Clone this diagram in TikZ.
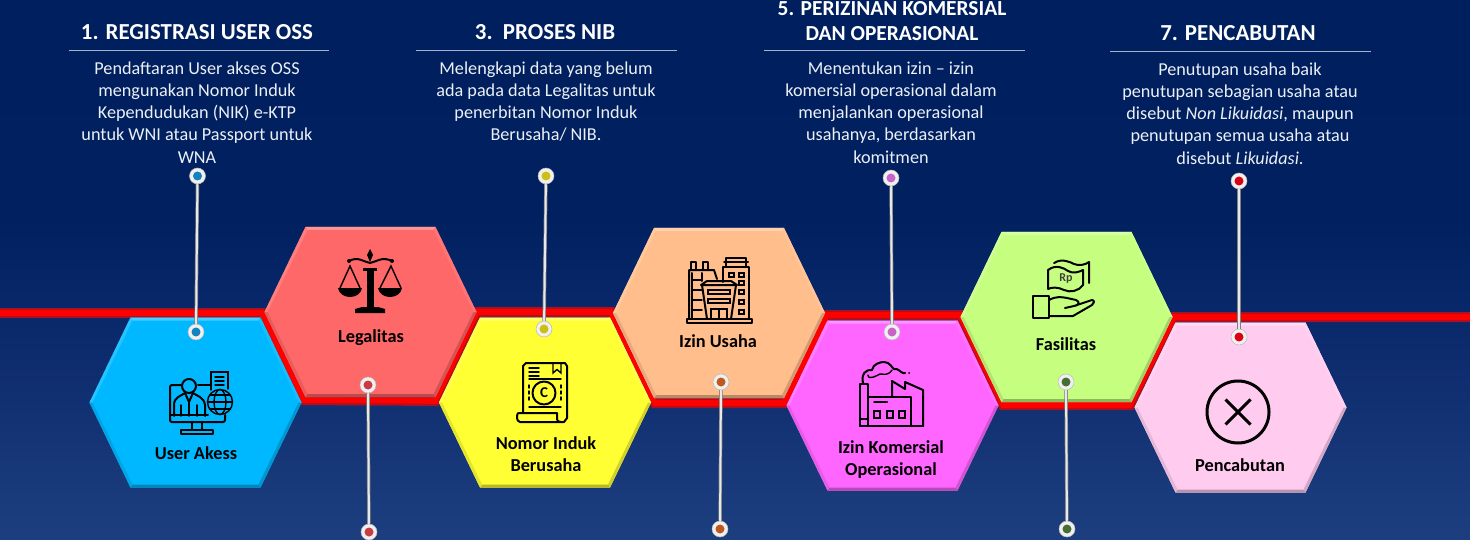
\documentclass[tikz,border=0pt]{standalone}
\usepackage{fontspec}
\setmainfont{Carlito}
\definecolor{bluehex}{RGB}{0,184,255}
\definecolor{redhex}{RGB}{255,104,104}
\definecolor{yellowhex}{RGB}{255,255,51}
\definecolor{peachhex}{RGB}{255,190,140}
\definecolor{magentahex}{RGB}{255,102,255}
\definecolor{greenhex}{RGB}{198,255,128}
\definecolor{pinkhex}{RGB}{255,204,240}
\definecolor{ballblue}{RGB}{20,130,190}
\definecolor{ballred}{RGB}{200,60,70}
\definecolor{ballyellow}{RGB}{205,190,20}
\definecolor{ballorange}{RGB}{190,90,30}
\definecolor{ballpink}{RGB}{200,100,200}
\definecolor{ballgreen}{RGB}{70,110,50}
\definecolor{balldeep}{RGB}{220,0,20}
\definecolor{bandedge}{RGB}{175,15,30}
\definecolor{rulegray}{RGB}{170,178,198}
\definecolor{textwhite}{RGB}{236,240,246}
\pgfdeclareverticalshading{bgshade}{100bp}{rgb(0bp)=(0.2,0.37,0.62);rgb(17bp)=(0.14,0.28,0.53);rgb(40bp)=(0.06,0.18,0.44);rgb(55bp)=(0,0.125,0.375);rgb(100bp)=(0,0.118,0.36)}
\newcommand{\hexa}[4]{%
	\begin{scope}[shift={(#1,#2)}]
		\fill[#3] (-106,0) -- (-65,-85) -- (65,-85) -- (106,0) -- (65,85) -- (-65,85) -- cycle;
		\fill[#3!70!white] (-65,-85) -- (65,-85) -- (63,-82) -- (-63,-82) -- cycle;
		\fill[#3!85!white] (-106,0) -- (-65,-85) -- (-63,-82) -- (-103,0) -- cycle;
		\fill[#3!92!white] (65,-85) -- (106,0) -- (103,0) -- (63,-82) -- cycle;
		\fill[#3!82!black] (106,0) -- (65,85) -- (63,82) -- (103,0) -- cycle;
		\fill[#3!72!black] (65,85) -- (-65,85) -- (-63,82) -- (63,82) -- cycle;
		\fill[#3!90!black] (-65,85) -- (-106,0) -- (-103,0) -- (-63,82) -- cycle;
	\end{scope}
	#4
}
\begin{document}
\begin{tikzpicture}[
		x=1pt,y=-1pt,
		band/.style={draw=bandedge,double=red,line width=2.2pt,double distance=5.6pt,miter limit=4},
		stick/.style={draw=gray,double=white!82!gray,line width=.7pt,double distance=2pt},
		rule/.style={draw=rulegray,line width=1pt},
		pinball/.style={circle,minimum size=16pt,inner sep=0pt,fill=white!88!gray,draw=gray!55,line width=.5pt,
			path picture={\fill[#1] (path picture bounding box.center) circle (4.5pt);}},
		headline/.style={text=white,font=\fontsize{22.9}{25}\selectfont\bfseries,align=center,inner sep=0pt},
		bodytext/.style={text=textwhite,font=\fontsize{18.2}{22.2}\selectfont,align=center,anchor=north,inner sep=0pt},
		hexlabel/.style={text=black,font=\fontsize{18.3}{22}\selectfont\bfseries,align=center,inner sep=0pt},
		icon/.style={draw=black,line width=2pt,line join=round,line cap=round},
		iconthin/.style={draw=black,line width=1.4pt,line cap=round}
		]
		\useasboundingbox (0,0) rectangle (1470,540);
		\clip (0,0) rectangle (1470,540);
		\shade[shading=bgshade] (0,0) rectangle (1470,540);
		
		% red band behind the hexagons
		\draw[band] (-10,313) -- (262,313) -- (304,400) -- (435,401) -- (477,312) -- (611,312) -- (655,403)
			-- (784,403) -- (827,315) -- (960,315) -- (1003,405) -- (1130,405) -- (1174,317) -- (1480,317);
		
		% hexagons
		\hexa{195.5}{402.5}{bluehex}{}
		\hexa{370.5}{312}{redhex}{}
		\hexa{545}{402.5}{yellowhex}{}
		\hexa{719}{313}{peachhex}{}
		\hexa{892.5}{405.5}{magentahex}{}
		\hexa{1066.5}{317}{greenhex}{}
		\hexa{1240.5}{407.5}{pinkhex}{}
		
		\node[hexlabel] (useraks) at (196,453) {User Akess};
		\node[hexlabel] (legal) at (371,338) {Legalitas};
		\node[hexlabel] (nib) at (546,454.5) {Nomor Induk\\Berusaha};
		\node[hexlabel] (izin) at (718,341) {Izin Usaha};
		\node[hexlabel] (komersial) at (891,460) {Izin Komersial\\Operasional};
		\node[hexlabel] (fasilitas) at (1066,344) {Fasilitas};
		\node[hexlabel] (cabut) at (1240,465) {Pencabutan};
		
		% titles
		\node[headline] (t1) at (197,32) {1. REGISTRASI USER OSS};
		\node[headline] (t3) at (545,32) {3.\ \ PROSES NIB};
		\node[headline,font=\fontsize{21.4}{25}\selectfont\bfseries] (t5) at (892,21) {5. PERIZINAN KOMERSIAL\\DAN OPERASIONAL};
		\node[headline] (t7) at (1238,33) {7. PENCABUTAN};
		
		\coordinate (r1a) at (69,50.5);
		\coordinate (r1b) at (329,50.5);
		\coordinate (r3a) at (416,50.5);
		\coordinate (r3b) at (677,50.5);
		\coordinate (r5a) at (764,50.5);
		\coordinate (r5b) at (1025,50.5);
		\coordinate (r7a) at (1110,52);
		\coordinate (r7b) at (1371,52);
		\draw[rule] (r1a) -- (r1b);
		\draw[rule] (r3a) -- (r3b);
		\draw[rule] (r5a) -- (r5b);
		\draw[rule] (r7a) -- (r7b);
		
		\node[bodytext] (b1) at (197,61.5) {Pendaftaran User akses OSS\\mengunakan Nomor Induk\\Kependudukan (NIK) e-KTP\\untuk WNI atau Passport untuk\\WNA};
		\node[bodytext] (b3) at (546,61.5) {Melengkapi data yang belum\\ada pada data Legalitas untuk\\penerbitan Nomor Induk\\Berusaha/ NIB.};
		\node[bodytext] (b5) at (891,61.5) {Menentukan izin -- izin\\komersial operasional dalam\\menjalankan operasional\\usahanya, berdasarkan\\komitmen};
		\node[bodytext] (b7) at (1240,62.5) {Penutupan usaha baik\\penutupan sebagian usaha atau\\disebut \textit{Non Likuidasi}, maupun\\penutupan semua usaha atau\\disebut \textit{Likuidasi}.};
		
		% pins
		\node[pinball=ballblue] (p1a) at (197.5,176) {};
		\node[pinball=ballblue] (p1b) at (196,332) {};
		\node[pinball=ballred] (p2a) at (368,385) {};
		\node[pinball=ballred] (p2b) at (369,532) {};
		\node[pinball=ballyellow] (p3a) at (546,176) {};
		\node[pinball=ballyellow] (p3b) at (544,329) {};
		\node[pinball=ballorange] (p4a) at (721,382) {};
		\node[pinball=ballorange] (p4b) at (720,529) {};
		\node[pinball=ballpink] (p5a) at (891,178) {};
		\node[pinball=ballpink] (p5b) at (892,332) {};
		\node[pinball=ballgreen] (p6a) at (1066,382) {};
		\node[pinball=ballgreen] (p6b) at (1067,529) {};
		\node[pinball=balldeep] (p7a) at (1239,181) {};
		\node[pinball=balldeep] (p7b) at (1239,337) {};
		\foreach \pina/\pinb in {p1a/p1b,p2a/p2b,p3a/p3b,p4a/p4b,p5a/p5b,p6a/p6b,p7a/p7b}
			\draw[stick] (\pina) -- (\pinb);
		
		% icon user
		\draw[icon,rounded corners=2pt] (181,385) -- (170,385) -- (170,422) -- (225,422) -- (225,415);
		\draw[icon] (198,385) -- (211,385);
		\draw[iconthin] (211,390) -- (211,372) -- (228,372) -- (228,389);
		\foreach \liney in {377,381,385}
			\draw[iconthin] (215,\liney) -- (224,\liney);
		\draw[iconthin] (220,402) circle (12.5);
		\draw[iconthin] (220,402) ellipse (6 and 12.5);
		\draw[iconthin] (207.5,402) -- (232.5,402) (209.5,395) -- (230.5,395) (209.5,409) -- (230.5,409);
		\draw[icon] (189,386) circle (7);
		\draw[icon] (174,416) -- (174,405) .. controls (174,397) and (181,396) .. (185,393) -- (189,402) -- (193,393)
			.. controls (197,396) and (204,397) .. (205,405) -- (205,416);
		\draw[iconthin] (189,402) -- (189,416) (181,405) -- (181,416) (197,405) -- (197,416);
		\draw[icon] (170,415) -- (208,415);
		\draw[icon] (192,422) -- (192,430) (202,422) -- (202,430);
		\draw[icon] (181,430) rectangle (213,434);
		
		% icon scales
		\fill (370,249) -- (373,255) -- (370,262) -- (367,255) -- cycle;
		\fill (366.5,268) rectangle (373.5,307);
		\fill (363,268) rectangle (377,271);
		\draw[icon] (349,261) .. controls (358,256) and (364,262) .. (370,263) .. controls (376,262) and (382,256) .. (392,261);
		\fill (349,261) circle (2) (392,261) circle (2);
		\fill (355,313) -- (355,309) -- (362,307) -- (378,307) -- (385,309) -- (385,313) -- cycle;
		\draw[iconthin] (340,288) -- (350,266) -- (360,288);
		\draw[iconthin] (380,288) -- (391,266) -- (401,288);
		\fill (338,288) -- (362,288) .. controls (360,300) and (340,300) .. (338,288) -- cycle;
		\fill (378,288) -- (402,288) .. controls (400,300) and (380,300) .. (378,288) -- cycle;
		
		% icon certificate
		\draw[icon] (523,413) -- (523,366) -- (526,363) -- (565,363) -- (567,366) -- (567,418);
		\draw[icon] (517,416) .. controls (517,413) and (518,413) .. (520,413) -- (557,413) -- (557,419)
			.. controls (557,421) and (558,422) .. (561,422) -- (520,422) .. controls (518,422) and (517,420) .. (517,416) -- cycle;
		\draw[icon] (561,422) -- (564,422) -- (567,418);
		\draw[iconthin] (553,364) -- (553,373) -- (557,369.5) -- (561,373) -- (561,364);
		\draw[icon] (544,393) circle (11.5);
		\node[font=\fontsize{15}{15}\selectfont\bfseries,inner sep=0pt] (ctext) at (544,393) {C};
		\foreach \liney in {368,372,376}
			\draw[iconthin] (529,\liney) -- (539,\liney);
		\foreach \liney in {379,407}
			\draw[iconthin] (529,\liney) -- (561,\liney);
		\draw[iconthin,dashed] (529,385) -- (529,403) (561,385) -- (561,403);
		
		% icon buildings
		\draw[icon] (687,323) rectangle (752,319);
		\draw[icon] (723,282) -- (723,267) -- (749,267) -- (749,319);
		\draw[icon] (726,267) -- (726,258) -- (746,258) -- (746,267) (724,262) -- (748,262);
		\draw[icon] (689,319) -- (689,270) -- (714,270) -- (717,279);
		\draw[icon] (691,270) -- (691,262) -- (696,262) -- (696,270) (703,270) -- (703,262) -- (708,262) -- (708,270);
		\draw[icon] (692,273) -- (692,319) (702,273) -- (702,281);
		\draw[iconthin] (692,280) -- (702,280) (692,290) -- (702,290) (692,300) -- (702,300) (692,310) -- (702,310);
		\draw[icon] (702,285) -- (707,319) (736,285) -- (731,319);
		\draw[icon] (701,285) -- (707,281) -- (731,281) -- (737,285) -- cycle;
		\draw[iconthin] (708,290) rectangle (730,294) (708,299) rectangle (730,303);
		\draw[iconthin] (711,319) -- (711,309) -- (727,309) -- (727,319) (719,309) -- (719,319);
		\foreach \wy in {273,281,290,300,310}
			\draw[iconthin] (739,\wy) rectangle (744,\wy+4);
		\draw[iconthin] (729,273) rectangle (734,277);
		
		% icon factory
		\draw[icon] (860,426) -- (923,426);
		\draw[icon] (860,426) -- (860,384) -- (868,384) -- (868,426) (860,419) -- (868,419);
		\draw[icon] (868,397) -- (911,397) -- (911,426);
		\draw[icon] (892,397) -- (892,381) -- (905,389) -- (905,382) -- (923,390) -- (923,426);
		\draw[iconthin] (874,402) -- (886,402);
		\fill (887,402) circle (1);
		\draw[iconthin] (874,411) rectangle (880,418) (887,411) rectangle (893,418) (899,411) rectangle (905,418);
		\draw[icon] (863,383) .. controls (861,374) and (866,369) .. (872,370) .. controls (873,364) and (880,362) .. (884,362)
			.. controls (890,362) and (892,368) .. (894,369) .. controls (898,368) and (900,372) .. (903,373) -- (905,373);
		\fill (909,373) circle (1);
		\draw[iconthin] (868,375) .. controls (868,381) and (878,375) .. (880,374) .. controls (884,374) and (888,376) .. (892,370);
		
		% icon money on hand
		\draw[icon] (1033,296) rectangle (1049,318);
		\draw[icon] (1049,300) .. controls (1056,296) and (1062,297) .. (1067,298) -- (1076,300) .. controls (1081,302) and (1078,306) .. (1074,306) -- (1065,308)
			(1074,306) -- (1092,300) .. controls (1095,300) and (1094,304) .. (1092,305) -- (1073,316) -- (1049,316);
		\draw[icon] (1048,289) -- (1048,270) .. controls (1056,264) and (1064,268) .. (1068,271) .. controls (1073,274) and (1079,272) .. (1083,270)
			-- (1083,285) .. controls (1079,291) and (1070,293) .. (1064,290) .. controls (1058,287) and (1052,287) .. (1048,289);
		\draw[icon] (1054,263) .. controls (1062,258) and (1070,262) .. (1074,264) .. controls (1079,266) and (1085,265) .. (1089,262) -- (1089,283);
		\node[font=\fontsize{12}{12}\selectfont\bfseries,text=black!75,inner sep=0pt] (rp) at (1066,279) {Rp};
		
		% icon cancel
		\draw[line width=3pt] (1238,412) circle (31);
		\draw[line width=3pt] (1225.5,399.5) -- (1250.5,424.5) (1225.5,424.5) -- (1250.5,399.5);
		\end{tikzpicture}
\end{document}
